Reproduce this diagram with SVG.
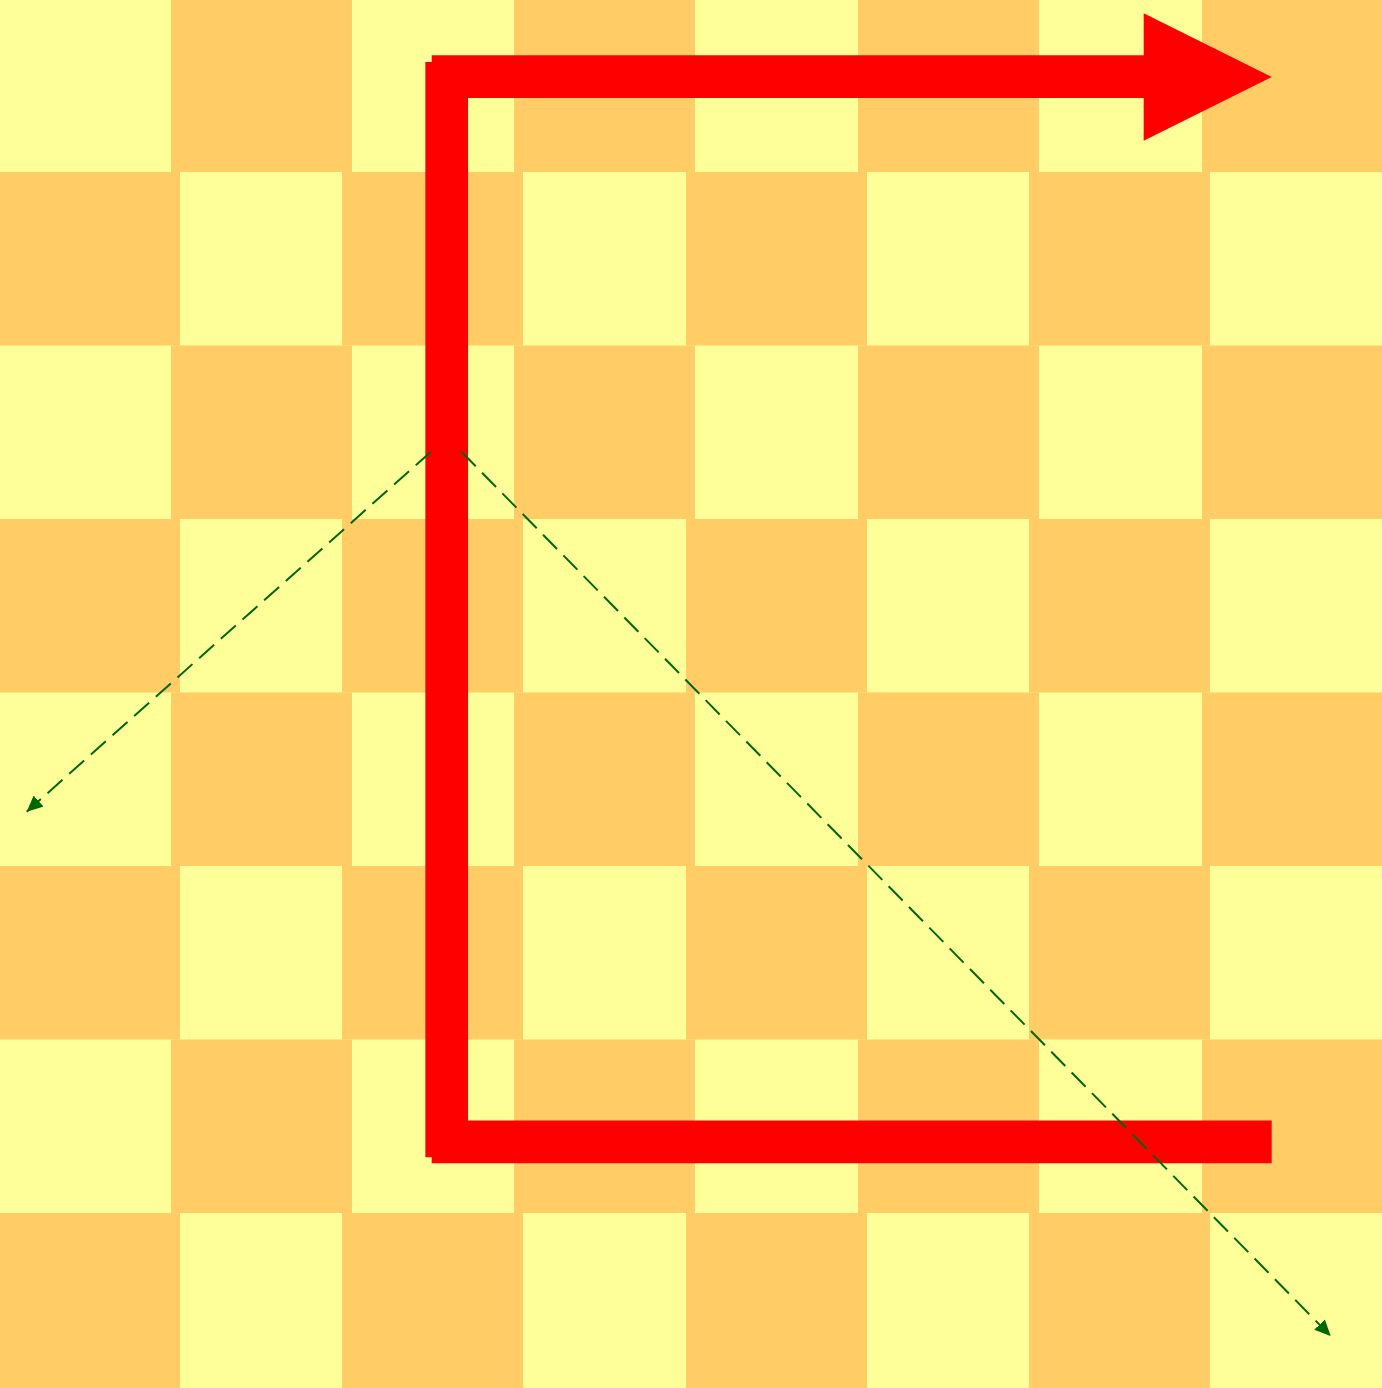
<svg xmlns="http://www.w3.org/2000/svg" width="1382" height="1388" viewBox="0 0 1382 1388">
<style>
.y{fill:#FFFF99}
.o{fill:#FFCC66}
.red{stroke:#FF0000;stroke-width:42.7;fill:none;stroke-linecap:butt}
.grn{stroke:#006600;stroke-width:2;fill:none;stroke-dasharray:20 9}
</style>
<defs>
<marker id="ga" viewBox="0 0 16 15" refX="16" refY="7.5" markerWidth="16" markerHeight="15" markerUnits="userSpaceOnUse" orient="auto">
<path d="M0,0 L16,7.5 L0,15 z" fill="#006600"/>
</marker>
</defs>
<g id="board">
<rect class="y" x="0" y="0" width="1382" height="1388"/>
<g id="even-rows">
<rect class="o" x="171" y="0" width="181" height="172"/>
<rect class="o" x="514" y="0" width="181" height="172"/>
<rect class="o" x="858" y="0" width="181" height="172"/>
<rect class="o" x="1202" y="0" width="180" height="172"/>
<rect class="o" x="171" y="345.5" width="181" height="173.5"/>
<rect class="o" x="514" y="345.5" width="181" height="173.5"/>
<rect class="o" x="858" y="345.5" width="181" height="173.5"/>
<rect class="o" x="1202" y="345.5" width="180" height="173.5"/>
<rect class="o" x="171" y="692.5" width="181" height="173.5"/>
<rect class="o" x="514" y="692.5" width="181" height="173.5"/>
<rect class="o" x="858" y="692.5" width="181" height="173.5"/>
<rect class="o" x="1202" y="692.5" width="180" height="173.5"/>
<rect class="o" x="171" y="1039.5" width="181" height="173.5"/>
<rect class="o" x="514" y="1039.5" width="181" height="173.5"/>
<rect class="o" x="858" y="1039.5" width="181" height="173.5"/>
<rect class="o" x="1202" y="1039.5" width="180" height="173.5"/>
</g>
<g id="odd-rows">
<rect class="o" x="0" y="172" width="180" height="173.5"/>
<rect class="o" x="342" y="172" width="181" height="173.5"/>
<rect class="o" x="686" y="172" width="181" height="173.5"/>
<rect class="o" x="1029" y="172" width="181" height="173.5"/>
<rect class="o" x="0" y="519" width="180" height="173.5"/>
<rect class="o" x="342" y="519" width="181" height="173.5"/>
<rect class="o" x="686" y="519" width="181" height="173.5"/>
<rect class="o" x="1029" y="519" width="181" height="173.5"/>
<rect class="o" x="0" y="866" width="180" height="173.5"/>
<rect class="o" x="342" y="866" width="181" height="173.5"/>
<rect class="o" x="686" y="866" width="181" height="173.5"/>
<rect class="o" x="1029" y="866" width="181" height="173.5"/>
<rect class="o" x="0" y="1213" width="180" height="175"/>
<rect class="o" x="342" y="1213" width="181" height="175"/>
<rect class="o" x="686" y="1213" width="181" height="175"/>
<rect class="o" x="1029" y="1213" width="181" height="175"/>
</g>
</g>
<g id="connectors">
<g id="red-path">
<line class="red" x1="446.7" y1="62" x2="446.7" y2="1157.3"/>
<line class="red" x1="431.7" y1="76.7" x2="1144" y2="76.7"/>
<polygon points="1143.7,13.3 1271.7,77 1143.7,140.7" fill="#FF0000"/>
<line class="red" x1="431.7" y1="1141.8" x2="1271.7" y2="1141.8"/>
</g>
<line class="grn" x1="430.7" y1="452" x2="26.7" y2="811.7" marker-end="url(#ga)"/>
<line class="grn" x1="461.7" y1="452" x2="1330.7" y2="1336" marker-end="url(#ga)"/>
</g>
</svg>
